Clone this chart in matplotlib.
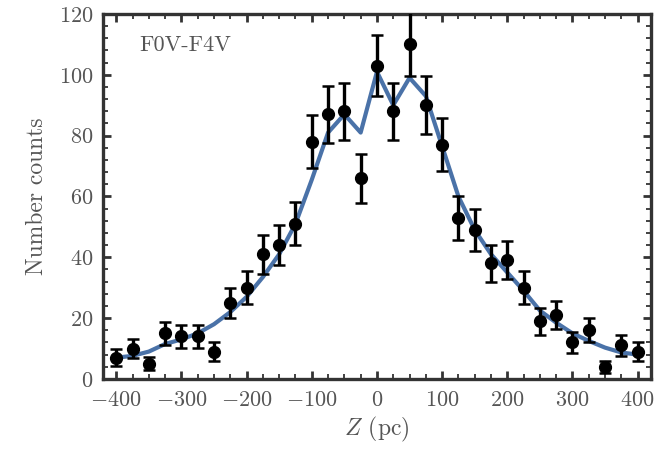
import numpy as np
import matplotlib
matplotlib.use("Agg")
import matplotlib.pyplot as plt
from matplotlib.ticker import MultipleLocator

plt.rcParams['font.family'] = 'serif'
plt.rcParams['font.serif'] = ['cmr10', 'DejaVu Serif']
plt.rcParams['mathtext.fontset'] = 'cm'
plt.rcParams['axes.formatter.use_mathtext'] = True

z = [-400, -375, -350, -325, -300, -275, -250, -225, -200, -175, -150, -125,
     -100, -75, -50, -25, 0, 25, 50, 75, 100, 125, 150, 175, 200, 225, 250,
     275, 300, 325, 350, 375, 400]
counts = [7, 10, 5, 15, 14, 14, 9, 25, 30, 41, 44, 51,
          78, 87, 88, 66, 103, 88, 110, 90, 77, 53, 49, 38, 39, 30, 19,
          21, 12, 16, 4, 11, 9]
errors = [2.7, 3.2, 2.2, 3.8, 3.7, 3.7, 3.0, 5.0, 5.5, 6.4, 6.6, 7.1,
          8.8, 9.3, 9.4, 8.1, 10.1, 9.4, 10.5, 9.5, 8.8, 7.3, 7.0, 6.2, 6.2, 5.5, 4.4,
          4.6, 3.5, 4.0, 2.0, 3.3, 3.0]
model = [7, 7.6, 9, 11.5, 13, 15, 18, 22, 27, 33.5, 41, 51,
         65.5, 81, 87, 81, 101, 90, 99, 93, 76.5, 60, 49, 41, 35, 29, 22.5,
         18.5, 15, 12.5, 10.3, 8.7, 8]

text_color = '#555555'
spine_color = '#333333'

fig = plt.figure(figsize=(6.66, 4.49), dpi=100)
ax = fig.add_axes([0.155, 0.156, 0.822, 0.813])

ax.plot(z, model, color='#4a72a8', lw=3.0, zorder=2)
ax.errorbar(z, counts, yerr=errors, fmt='o', color='black', ms=8.5,
            elinewidth=2.4, capsize=4, capthick=1.8, zorder=3)

ax.set_xlim(-420, 420)
ax.set_ylim(0, 120)
ax.xaxis.set_major_locator(MultipleLocator(100))
ax.xaxis.set_minor_locator(MultipleLocator(25))
ax.yaxis.set_major_locator(MultipleLocator(20))
ax.yaxis.set_minor_locator(MultipleLocator(4))

for s in ax.spines.values():
    s.set_linewidth(2.4)
    s.set_color(spine_color)

ax.tick_params(which='both', direction='in', top=True, right=True,
               color=spine_color, labelcolor=text_color, labelsize=16)
ax.tick_params(which='major', length=6, width=2)
ax.tick_params(which='minor', length=3.5, width=1.3)
ax.tick_params(axis='x', which='major', pad=8)
ax.tick_params(axis='y', which='major', pad=7)

ax.set_xlabel(r'$Z$ (pc)', fontsize=17, color=text_color, labelpad=4)
ax.set_ylabel('Number counts', fontsize=17, color=text_color, labelpad=8)
ax.text(0.065, 0.915, 'F0V-F4V', transform=ax.transAxes, fontsize=16,
        color=text_color, va='center', ha='left')

fig.savefig('out.png', dpi=100)
